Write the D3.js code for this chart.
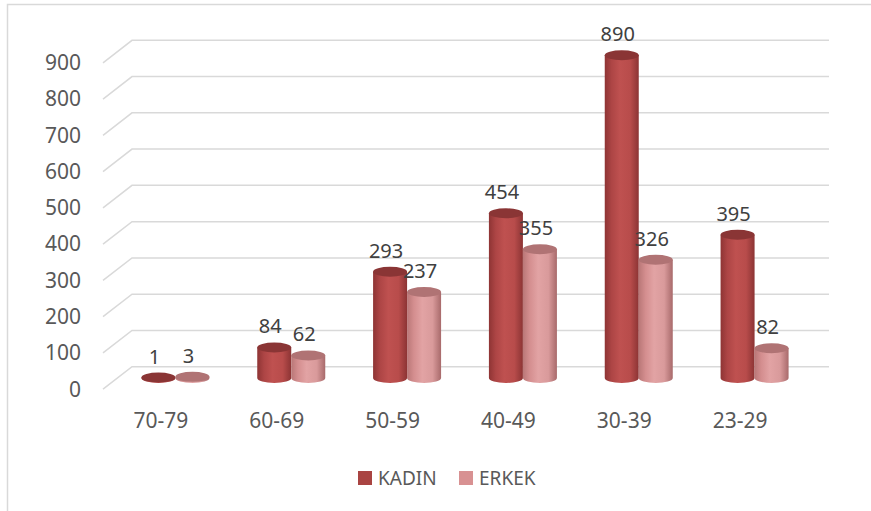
<!DOCTYPE html>
<html>
<head>
<meta charset="utf-8">
<script src="https://cdn.jsdelivr.net/npm/d3@7"></script>
<style>
  html, body { margin: 0; padding: 0; background: #fff; }
  svg { display: block; font-family: "Noto Sans", "Open Sans", sans-serif; }
</style>
</head>
<body>
<div id="wrapper"></div>
<script>
const categories = ['70-79', '60-69', '50-59', '40-49', '30-39', '23-29']
const kadin = [1, 84, 293, 454, 890, 395]
const erkek = [3, 62, 237, 355, 326, 82]
const seriesNames = ['KADIN', 'ERKEK']
const yTicks = [0, 100, 200, 300, 400, 500, 600, 700, 800, 900]

function drawChart() {
  const dimensions = { width: 871, height: 511 }

  // 3d depth offset of the back wall relative to the front floor edge
  const depth = { dx: 29, dy: 22.5 }

  const wrapper = d3.select('#wrapper')
    .append('svg')
    .attr('width', dimensions.width)
    .attr('height', dimensions.height)

  // outer chart border (right and bottom cut off in the original)
  wrapper.append('path')
    .attr('d', 'M7.5,520 L7.5,4.5 L880,4.5')
    .attr('fill', 'none')
    .attr('stroke', '#d9d9d9')
    .attr('stroke-width', 1.5)

  const yScale = d3.scaleLinear()
    .domain([0, 900])
    .range([366.7, 40.3])

  const xScale = d3.scaleBand()
    .domain(categories)
    .range([103, 798])

  const backLeft = xScale.range()[0] + depth.dx
  const backRight = 829

  // grid lines: back wall + left side wall diagonal
  const grid = wrapper.append('g')
    .attr('fill', 'none')
    .attr('stroke', '#d9d9d9')
    .attr('stroke-width', 1.5)

  grid.selectAll('path')
    .data(yTicks)
    .enter().append('path')
    .attr('d', d => {
      const y = yScale(d)
      return `M${backLeft - depth.dx},${y + depth.dy} L${backLeft},${y} L${backRight},${y}`
    })

  // y tick labels at the front edge
  wrapper.append('g')
    .selectAll('text')
    .data(yTicks)
    .enter().append('text')
    .attr('x', 81)
    .attr('y', d => yScale(d) + depth.dy)
    .attr('dy', '0.35em')
    .attr('text-anchor', 'end')
    .attr('fill', '#595959')
    .attr('font-size', 21)
    .text(d => d)

  // x labels
  wrapper.append('g')
    .selectAll('text')
    .data(categories)
    .enter().append('text')
    .attr('x', d => xScale(d) + xScale.bandwidth() / 2)
    .attr('y', 421)
    .attr('dy', '0.35em')
    .attr('text-anchor', 'middle')
    .attr('fill', '#595959')
    .attr('font-size', 21)
    .text(d => d)

  // gradients for the cylinders
  const defs = wrapper.append('defs')
  const palettes = [
    { body: ['#8e3434', '#ad4545', '#bf5150', '#b84c4b', '#8c3434'], top: '#8a3535', swatch: '#a94442' },
    { body: ['#b97777', '#d48e8f', '#e2a3a4', '#d99a9b', '#a86a6b'], top: '#b07374', swatch: '#d89192' },
  ]
  palettes.forEach((p, i) => {
    const g = defs.append('linearGradient')
      .attr('id', `cyl${i}`)
      .attr('x1', 0).attr('x2', 1).attr('y1', 0).attr('y2', 0)
    const stops = [0, 0.2, 0.45, 0.75, 1]
    stops.forEach((s, j) => {
      g.append('stop').attr('offset', s).attr('stop-color', p.body[j])
    })
  })

  const barWidth = 34
  const ry = 5
  const series = [kadin, erkek]
  const bars = []
  categories.forEach((c, ci) => {
    series.forEach((values, si) => {
      bars.push({ category: c, series: si, value: values[ci] })
    })
  })

  const barCenter = d => xScale(d.category) + xScale.bandwidth() / 2
    + depth.dx / 2 + (d.series === 0 ? -17 : 17)
  const baseY = yScale(0) + depth.dy / 2
  const topY = d => yScale(d.value) + depth.dy / 2

  const cyl = wrapper.append('g')
    .selectAll('g')
    .data(bars)
    .enter().append('g')

  cyl.append('path')
    .attr('fill', d => `url(#cyl${d.series})`)
    .attr('d', d => {
      const cx = barCenter(d)
      const rx = barWidth / 2
      const t = topY(d)
      return `M${cx - rx},${t} L${cx - rx},${baseY} A${rx},${ry} 0 0 0 ${cx + rx},${baseY} L${cx + rx},${t} Z`
    })

  cyl.append('ellipse')
    .attr('cx', d => barCenter(d))
    .attr('cy', d => topY(d))
    .attr('rx', barWidth / 2)
    .attr('ry', ry)
    .attr('fill', d => palettes[d.series].top)

  // value labels
  wrapper.append('g')
    .selectAll('text')
    .data(bars)
    .enter().append('text')
    .attr('x', d => barCenter(d) - 4)
    .attr('y', d => topY(d) - ry - 9)
    .attr('text-anchor', 'middle')
    .attr('fill', '#404040')
    .attr('font-size', 20)
    .text(d => d.value)

  // legend
  const legend = wrapper.append('g')
  const legendX = [358, 459]
  seriesNames.forEach((name, i) => {
    legend.append('rect')
      .attr('x', legendX[i])
      .attr('y', 471)
      .attr('width', 14)
      .attr('height', 14)
      .attr('fill', palettes[i].swatch)
    legend.append('text')
      .attr('x', legendX[i] + 20)
      .attr('y', 478)
      .attr('dy', '0.35em')
      .attr('fill', '#595959')
      .attr('font-size', 19)
      .text(name)
  })
}

drawChart()
</script>
</body>
</html>
